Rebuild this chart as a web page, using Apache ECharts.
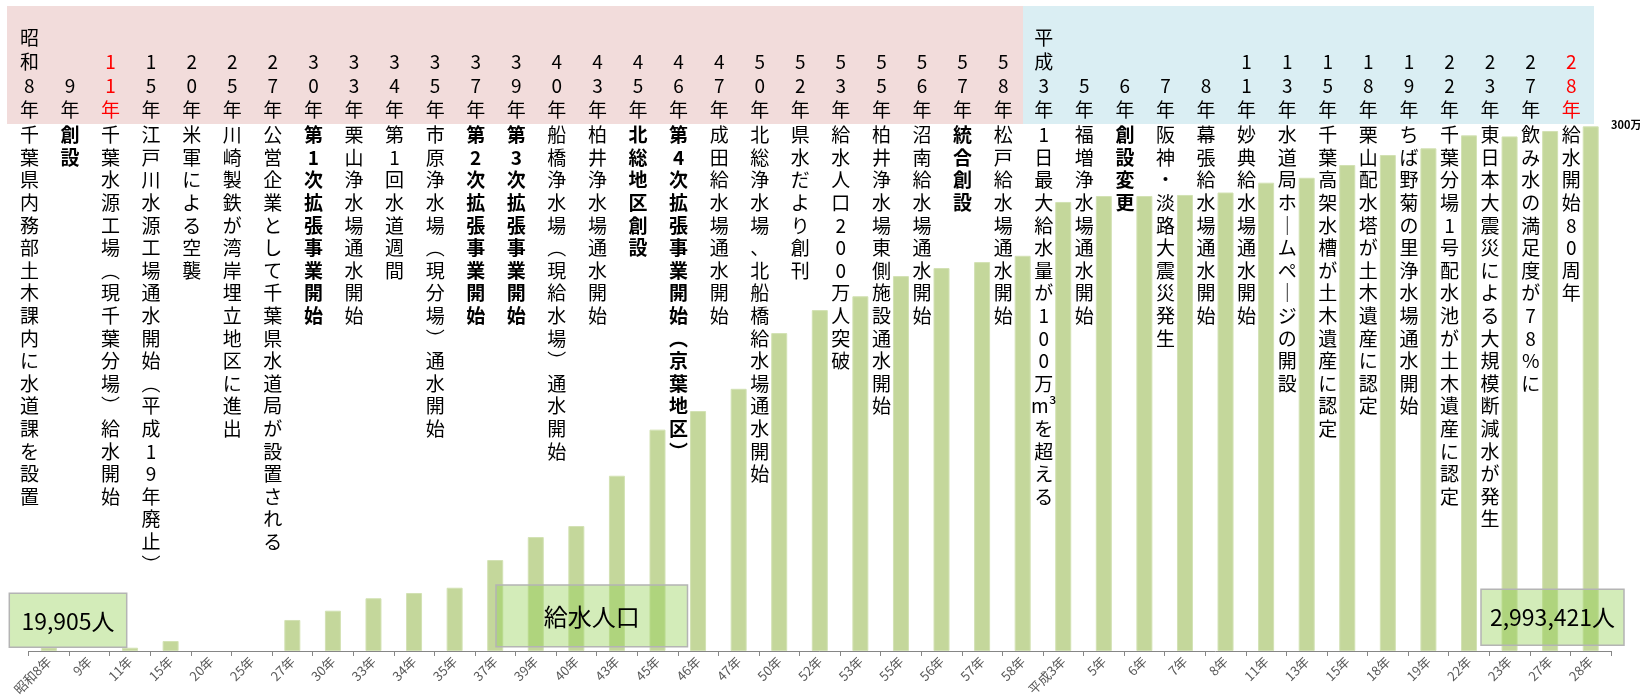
<!DOCTYPE html>
<html>
<head>
<meta charset="utf-8">
<script src="https://cdn.jsdelivr.net/npm/echarts@6/dist/echarts.min.js"></script>
<style>
  html, body { margin: 0; padding: 0; background: #fff; }
  #main { width: 1640px; height: 699px; }
</style>
</head>
<body>
<div id="main"></div>
<script>
// 年次（横軸）
var years = ['昭和8年', '9年', '11年', '15年', '20年', '25年', '27年', '30年', '33年', '34年',
  '35年', '37年', '39年', '40年', '43年', '45年', '46年', '47年', '50年', '52年',
  '53年', '55年', '56年', '57年', '58年', '平成3年', '5年', '6年', '7年', '8年',
  '11年', '13年', '15年', '18年', '19年', '22年', '23年', '27年', '28年'];

// 各年の出来事
var events = ['千葉県内務部土木課内に水道課を設置', '創設', '千葉水源工場（現千葉分場）給水開始',
  '江戸川水源工場通水開始（平成19年廃止）', '米軍による空襲', '川崎製鉄が湾岸埋立地区に進出',
  '公営企業として千葉県水道局が設置される', '第1次拡張事業開始', '栗山浄水場通水開始', '第1回水道週間',
  '市原浄水場（現分場）通水開始', '第2次拡張事業開始', '第3次拡張事業開始', '船橋浄水場（現給水場）通水開始',
  '柏井浄水場通水開始', '北総地区創設', '第4次拡張事業開始（京葉地区）', '成田給水場通水開始',
  '北総浄水場、北船橋給水場通水開始', '県水だより創刊', '給水人口200万人突破', '柏井浄水場東側施設通水開始',
  '沼南給水場通水開始', '統合創設', '松戸給水場通水開始', '1日最大給水量が100万m³を超える',
  '福増浄水場通水開始', '創設変更', '阪神・淡路大震災発生', '幕張給水場通水開始', '妙典給水場通水開始',
  '水道局ホームページの開設', '千葉高架水槽が土木遺産に認定', '栗山配水塔が土木遺産に認定',
  'ちば野菊の里浄水場通水開始', '千葉分場1号配水池が土木遺産に認定', '東日本大震災による大規模断減水が発生',
  '飲み水の満足度が78%に', '給水開始80周年'];

// 太字の出来事 / 赤字の年（インデックス）
var boldEvents = [1, 7, 11, 12, 15, 16, 23, 27];
var redYears = [2, 38];

// 給水人口（人）
var population = [19905, null, 18800, 57000, null, null, 177000, 230000, 301000, 331000,
  361000, 519000, 650000, 713000, 1000000, 1263000, 1369000, 1496000, 1814000, 1945000,
  2024000, 2139000, 2185000, 2219000, 2255000, 2562000, 2596000, 2596000, 2602000, 2616000,
  2672000, 2700000, 2773000, 2830000, 2868000, 2942000, 2936000, 2967000, 2993421];

// 囲み文字
var firstLabel = '19,905人';
var lastLabel = '2,993,421人';
var seriesLabel = '給水人口';

var FONT = '"Noto Sans CJK JP", "Noto Sans CJK SC", sans-serif';

// 縦書き用に1文字ずつ改行
var verticalChars = function (text) {
  var chars = Array.from(text.replace(/（/g, '︵').replace(/）/g, '︶').replace(/ー/g, '｜'));
  var lines = [];
  chars.forEach(function (c) {
    if (c === '³' && lines.length) {
      lines[lines.length - 1] += c;
    } else {
      lines.push(c);
    }
  });
  return lines;
};

var chart = echarts.init(document.getElementById('main'));

var option = {
  animation: false,
  textStyle: { fontFamily: FONT },
  grid: {
    left: 28.6,
    right: 29,
    top: 125.2,
    bottom: 48,
    containLabel: false,
    outerBoundsMode: 'none'
  },
  xAxis: [{
    // 下の年次軸
    type: 'category',
    data: years,
    position: 'bottom',
    axisLine: { lineStyle: { color: '#868686', width: 1 } },
    axisTick: { show: true, length: 5, lineStyle: { color: '#868686' } },
    axisLabel: {
      interval: 0,
      rotate: 45,
      fontSize: 13,
      color: '#595959',
      margin: 8,
      hideOverlap: false,
      fontFamily: FONT
    },
    splitLine: { show: false }
  }, {
    // 上段の年（縦書き）
    type: 'category',
    data: years,
    position: 'top',
    axisLine: { show: false },
    axisTick: { show: false },
    splitLine: { show: false },
    axisLabel: {
      interval: 0,
      margin: 3,
      verticalAlign: 'bottom',
      padding: [0, 39, 0, 0],
      formatter: function (value, index) {
        var tag = redYears.indexOf(index) >= 0 ? 'r' : 'n';
        return verticalChars(value).map(function (c) {
          return '{' + tag + '|' + c + '}';
        }).join('\n');
      },
      rich: {
        n: { fontFamily: FONT, fontSize: 19, lineHeight: 24, color: '#000' },
        r: { fontFamily: FONT, fontSize: 19, lineHeight: 24, color: '#ff0000' }
      }
    }
  }, {
    // 出来事（縦書き）
    type: 'category',
    data: years,
    position: 'top',
    z: 5,
    axisLine: { show: false },
    axisTick: { show: false },
    splitLine: { show: false },
    axisLabel: {
      interval: 0,
      inside: true,
      margin: -1.5,
      verticalAlign: 'top',
      padding: [0, 39, 0, 0],
      formatter: function (value, index) {
        var tag = boldEvents.indexOf(index) >= 0 ? 'b' : 'n';
        return verticalChars(events[index]).map(function (c) {
          return '{' + tag + '|' + c + '}';
        }).join('\n');
      },
      rich: {
        n: { fontFamily: FONT, fontSize: 19, lineHeight: 22.6, color: '#000' },
        b: { fontFamily: FONT, fontSize: 19, lineHeight: 22.6, color: '#000', fontWeight: 'bold' }
      }
    }
  }],
  yAxis: {
    type: 'value',
    position: 'right',
    min: 0,
    max: 3000000,
    interval: 3000000,
    axisLine: { show: false },
    axisTick: { show: false },
    splitLine: { show: false },
    axisLabel: {
      margin: 0,
      fontSize: 11,
      fontWeight: 'bold',
      color: '#000',
      fontFamily: FONT,
      formatter: function (v) {
        return v === 3000000 ? '300万' : '';
      }
    }
  },
  series: [{
    name: seriesLabel,
    type: 'bar',
    xAxisIndex: 0,
    yAxisIndex: 0,
    barWidth: 16,
    data: population,
    itemStyle: { color: '#c4d79b', borderColor: '#d3e2b4', borderWidth: 1 }
  }],
  graphic: [
    // 背景の帯（昭和 / 平成）
    { type: 'rect', z: -1, shape: { x: 7, y: 6, width: 1016, height: 118 }, style: { fill: '#f2dcdb' } },
    { type: 'rect', z: -1, shape: { x: 1023, y: 6, width: 571, height: 118 }, style: { fill: '#daeef3' } },
    // 囲み
    { type: 'rect', z: 10, shape: { x: 9.3, y: 593.3, width: 117.4, height: 54 },
      style: { fill: 'rgba(146,208,80,0.4)', stroke: '#b4b4b4', lineWidth: 1.5 } },
    { type: 'text', z: 11, style: { x: 68, y: 621, text: firstLabel, align: 'center', verticalAlign: 'middle',
      fontSize: 23, fontFamily: FONT, fill: '#000' } },
    { type: 'rect', z: 10, shape: { x: 496, y: 585, width: 191.5, height: 61.7 },
      style: { fill: 'rgba(146,208,80,0.4)', stroke: '#b4b4b4', lineWidth: 1.5 } },
    { type: 'text', z: 11, style: { x: 591.7, y: 617, text: seriesLabel, align: 'center', verticalAlign: 'middle',
      fontSize: 24, fontFamily: FONT, fill: '#000' } },
    { type: 'rect', z: 10, shape: { x: 1481, y: 589.3, width: 143, height: 56 },
      style: { fill: 'rgba(146,208,80,0.4)', stroke: '#b4b4b4', lineWidth: 1.5 } },
    { type: 'text', z: 11, style: { x: 1552.5, y: 617, text: lastLabel, align: 'center', verticalAlign: 'middle',
      fontSize: 23, fontFamily: FONT, fill: '#000' } }
  ]
};

chart.setOption(option);
</script>
</body>
</html>
